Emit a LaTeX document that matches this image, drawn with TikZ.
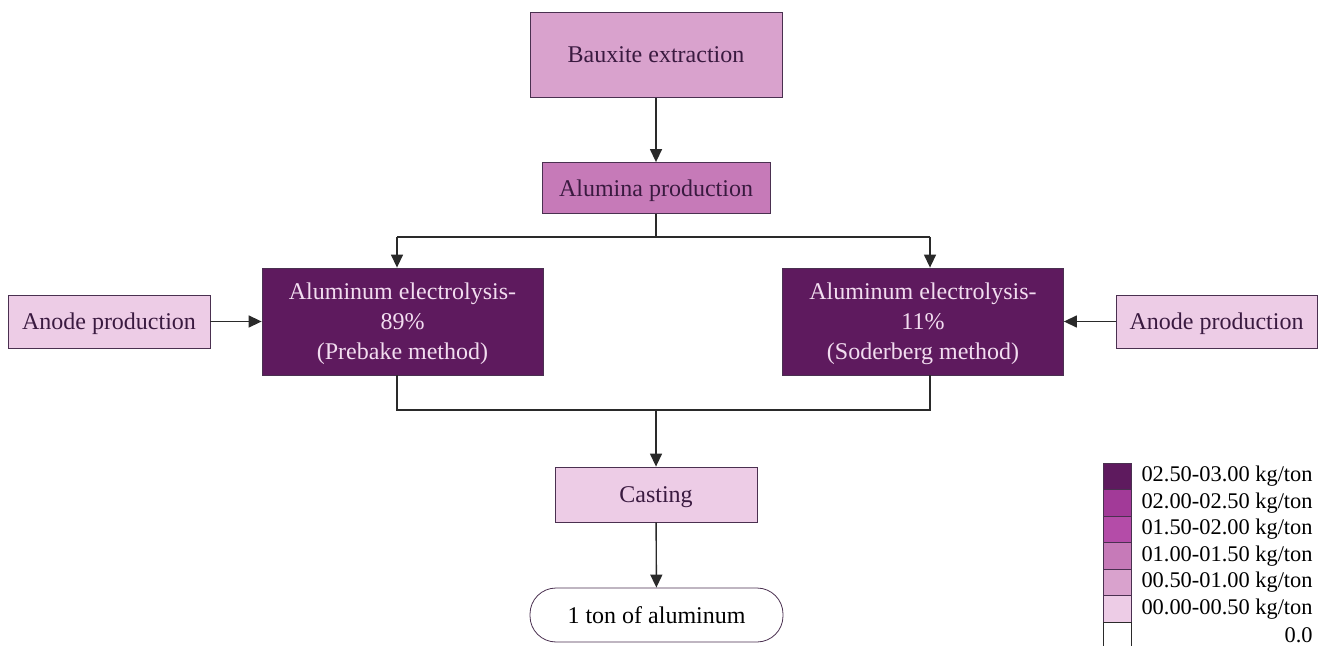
\documentclass[tikz,border=0pt]{standalone}
\usepackage{fontspec}
\setmainfont{Liberation Serif}
\usepackage{xcolor}
\usepackage{tikz}
\usetikzlibrary{arrows.meta,positioning,calc}
\definecolor{plum}{HTML}{5E1A5E}
\definecolor{magenta2}{HTML}{A23A98}
\definecolor{magenta3}{HTML}{B44CA8}
\definecolor{orchid}{HTML}{C67AB8}
\definecolor{mauve}{HTML}{D9A2CD}
\definecolor{blush}{HTML}{EDCCE6}
\definecolor{edge}{HTML}{4A3050}
\definecolor{inktext}{HTML}{3A1A40}
\definecolor{paletext}{HTML}{F2DDF0}
\definecolor{wire}{HTML}{2A2A2A}

\begin{document}
\begin{tikzpicture}[x=0.5pt,y=-0.5pt,
    proc/.style={draw=edge,thin,fill=blush,text=inktext,align=center,text depth=0pt,
                 font=\fontsize{12}{15}\selectfont,inner sep=2pt},
    elec/.style={proc,fill=plum,text=paletext,minimum width=140.5pt,minimum height=53.5pt},
    arr/.style={-{Triangle[length=6.5pt,width=6pt]},line width=0.7pt,color=wire},
    link/.style={line width=0.7pt,color=wire},
    legbox/.style={draw=edge,thin,minimum width=14pt,minimum height=13.25pt,inner sep=0pt},
    leglab/.style={anchor=east,inner sep=0pt,font=\fontsize{11.2}{13}\selectfont}
  ]
    \useasboundingbox (0,0) rectangle (1322,646);
    % main chain
    \node[proc,fill=mauve,minimum width=126pt,minimum height=42.5pt] (baux) at (656,55) {Bauxite extraction};
    \node[proc,fill=orchid,minimum width=114pt,minimum height=25.5pt] (alum) at (656,188) {Alumina production};
    \node[elec] (elecL) at (402.5,321.5) {Aluminum electrolysis-\\89\%\\(Prebake method)};
    \node[elec] (elecR) at (923,321.5) {Aluminum electrolysis-\\11\%\\(Soderberg method)};
    \node[proc,minimum width=101pt,minimum height=26.5pt] (anodeL) at (109,321.5) {Anode production};
    \node[proc,minimum width=100.5pt,minimum height=26.5pt] (anodeR) at (1216.5,321.5) {Anode production};
    \node[proc,minimum width=101pt,minimum height=27.5pt] (cast) at (656,494.5) {Casting};
    \node[proc,fill=white,text=black,rounded corners=13pt,minimum width=126.5pt,
          minimum height=27pt] (ton) at (656.5,615) {1 ton of aluminum};
    % connectors
    \coordinate (splL) at (397,237);
    \coordinate (splR) at (930,237);
    \coordinate (mrgL) at (397,410);
    \coordinate (mrgR) at (930,410);
    \draw[arr] (baux)--(alum);
    \draw[link] (alum.south) |- (splL);
    \draw[link] (alum.south) |- (splR);
    \draw[arr] (splL)--(elecL.north -| splL);
    \draw[arr] (splR)--(elecR.north -| splR);
    \draw[arr] (anodeL)--(elecL);
    \draw[arr] (anodeR)--(elecR);
    \draw[link] (elecL.south -| mrgL)--(mrgL)--(mrgR)--(elecR.south -| mrgR);
    \draw[arr] (mrgL -| cast)--(cast.north);
    \draw[arr] (cast)--(ton);
    % legend
    \node[legbox,fill=plum] (leg1) at (1117,476.25) {};
    \node[legbox,fill=magenta2] (leg2) at (1117,502.75) {};
    \node[legbox,fill=magenta3] (leg3) at (1117,529.25) {};
    \node[legbox,fill=orchid] (leg4) at (1117,555.75) {};
    \node[legbox,fill=mauve] (leg5) at (1117,582.25) {};
    \node[legbox,fill=blush] (leg6) at (1117,608.75) {};
    \node[legbox,draw=wire,fill=white] (leg7) at (1117,635.25) {};
    \node[leglab] (lab1) at (1313,476.25) {02.50-03.00 kg/ton};
    \node[leglab] (lab2) at (1313,502.75) {02.00-02.50 kg/ton};
    \node[leglab] (lab3) at (1313,529.25) {01.50-02.00 kg/ton};
    \node[leglab] (lab4) at (1313,555.75) {01.00-01.50 kg/ton};
    \node[leglab] (lab5) at (1313,582.25) {00.50-01.00 kg/ton};
    \node[leglab] (lab6) at (1313,608.75) {00.00-00.50 kg/ton};
    \node[leglab] (lab7) at (1313,635.25) {0.0};
  \end{tikzpicture}
\end{document}
